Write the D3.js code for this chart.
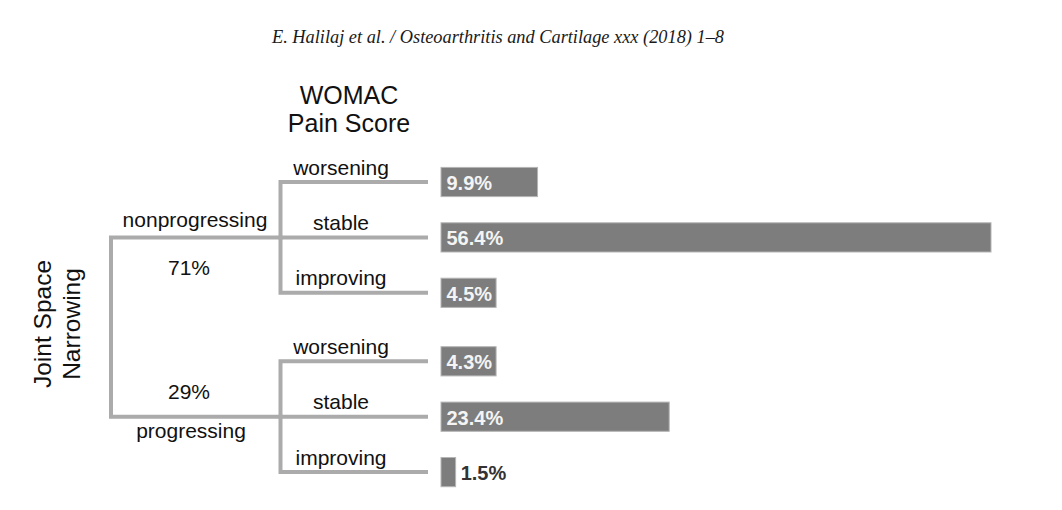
<!DOCTYPE html>
<html>
<head>
<meta charset="utf-8">
<script src="https://cdn.jsdelivr.net/npm/d3@7"></script>
<style>
  html, body { margin: 0; padding: 0; background: #fff; }
  svg { display: block; }
</style>
</head>
<body>
<svg id="chart" width="1062" height="510"></svg>
<script>
// ---- data ----
const headerText = "E. Halilaj et al. / Osteoarthritis and Cartilage xxx (2018) 1\u20138";
const rootTitle = ["Joint Space", "Narrowing"];
const branchTitle = ["WOMAC", "Pain Score"];
const groups = ["nonprogressing", "progressing"];
const groupShares = [71, 29];
const painCategories = ["worsening", "stable", "improving"];
const nonprogressingValues = [9.9, 56.4, 4.5];
const progressingValues = [4.3, 23.4, 1.5];
const groupValues = [nonprogressingValues, progressingValues];

// ---- layout ----
const svg = d3.select("#chart");
const font = "'Liberation Sans', Arial, Helvetica, sans-serif";
const lineColor = "#ababab";
const lineW = 4;

const rootX = 111, groupX = 280.5, branchEndX = 426, barX = 441;

const yGroup = d3.scalePoint().domain(groups).range([182, 361.3]);
const yCat = d3.scalePoint().domain(painCategories).range([0, 110.8]);
const xBar = d3.scaleLinear().domain([0, 56.4]).range([0, 550]);

// header
svg.append("text")
  .attr("x", 272).attr("y", 42.5)
  .attr("textLength", 452).attr("lengthAdjust", "spacingAndGlyphs")
  .style("font-family", "'Liberation Serif', 'DejaVu Serif', serif")
  .style("font-style", "italic").style("font-size", "18px").style("fill", "#1a1a1a")
  .text(headerText);

// WOMAC title
svg.append("g").selectAll("text").data(branchTitle).join("text")
  .attr("x", 349).attr("y", (d, i) => 104 + i * 28)
  .attr("text-anchor", "middle")
  .style("font-family", font).style("font-size", "25px").style("fill", "#111")
  .text(d => d);

// Root title (rotated)
svg.append("g").selectAll("text").data(rootTitle).join("text")
  .attr("transform", (d, i) => `translate(${50.5 + i * 29},324) rotate(-90)`)
  .attr("text-anchor", "middle")
  .style("font-family", font).style("font-size", "24.5px").style("fill", "#111")
  .text(d => d);

const midY = g => yGroup(g) + yCat("stable");

// root tree lines
const tree = svg.append("g").attr("fill", "none").attr("stroke", lineColor)
  .attr("stroke-width", lineW).attr("stroke-linecap", "square");

tree.append("path")
  .attr("d", `M${groupX},${midY(groups[0])}H${rootX}V${midY(groups[1])}H${groupX}`);

groups.forEach((g, gi) => {
  const top = yGroup(g) + yCat(painCategories[0]);
  const bot = yGroup(g) + yCat(painCategories[painCategories.length - 1]);
  tree.append("path")
    .attr("d", `M${branchEndX},${top}H${groupX}V${bot}H${branchEndX}`);
  tree.append("path")
    .attr("d", `M${groupX},${midY(g)}H${branchEndX}`);
});

// group labels
const labelStyle = sel => sel.style("font-family", font).style("font-size", "21px").style("fill", "#111");
groups.forEach((g, gi) => {
  const y = midY(g);
  const nameY = gi === 0 ? y - 10 : y + 21.5;
  const shareY = gi === 0 ? y + 38 : y - 17.5;
  svg.append("text").attr("x", gi === 0 ? 195 : 191).attr("y", nameY)
    .attr("text-anchor", "middle").call(labelStyle).text(g);
  svg.append("text").attr("x", 189).attr("y", shareY)
    .attr("text-anchor", "middle").call(labelStyle).text(groupShares[gi] + "%");
});

// branch labels + bars
groups.forEach((g, gi) => {
  const vals = groupValues[gi];
  painCategories.forEach((c, ci) => {
    const y = yGroup(g) + yCat(c);
    svg.append("text").attr("x", 341).attr("y", y - 7.5)
      .attr("text-anchor", "middle").call(labelStyle).text(c);

    const v = vals[ci];
    const label = v.toFixed(1) + "%";
    const t = svg.append("text")
      .style("font-family", font).style("font-size", "20px").style("font-weight", "bold")
      .text(label);
    const tw = t.node().getComputedTextLength();
    let w = xBar(v);
    const inside = w >= 25;
    if (inside) w = Math.max(w, tw + 9.5);
    svg.insert("rect", "text")
      .attr("x", barX).attr("y", y - 14.6)
      .attr("width", w).attr("height", 29.2)
      .attr("fill", "#7d7d7d").attr("stroke", "#b5b5b5").attr("stroke-width", 1);
    t.attr("x", inside ? barX + 5.5 : barX + w + 5)
      .attr("y", y + 8)
      .style("fill", inside ? "#f4f4f4" : "#333");
  });
});
</script>
</body>
</html>
